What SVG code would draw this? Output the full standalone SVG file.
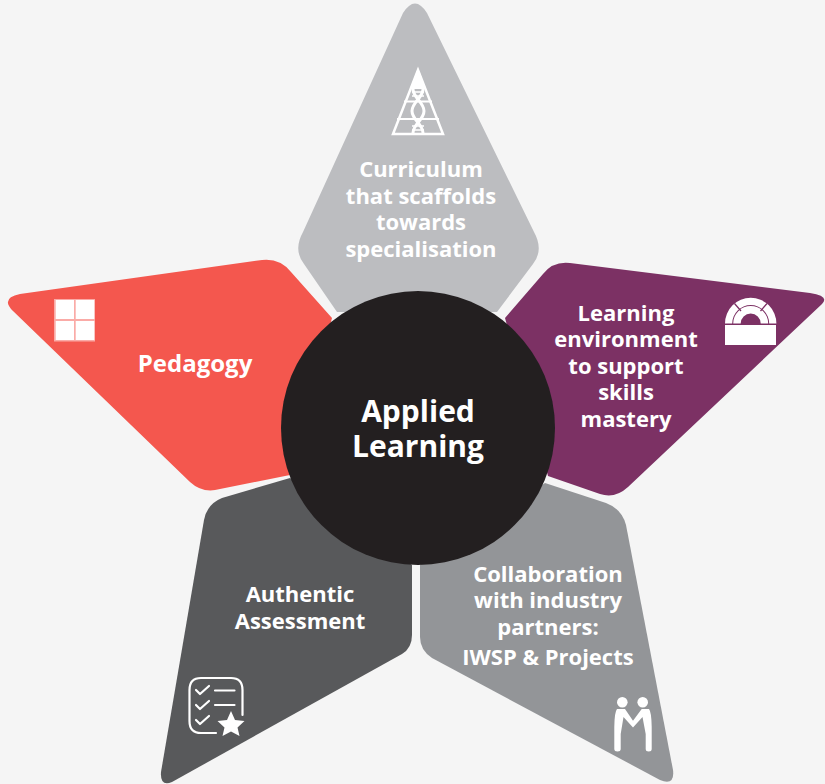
<svg xmlns="http://www.w3.org/2000/svg" width="825" height="784" viewBox="0 0 825 784">
<style>
.t{font-family:"Open Sans","Liberation Sans",sans-serif;font-weight:700;font-size:22px;fill:#fff;text-anchor:middle}
.c{font-family:"Open Sans","Liberation Sans",sans-serif;font-weight:700;font-size:30px;fill:#fff;text-anchor:middle}
.w{fill:#fff}
.l{fill:none;stroke:#fff;stroke-width:2.200;stroke-linecap:round;stroke-linejoin:round}
</style>
<rect width="825" height="784" fill="#f5f5f5"/>
<g id="node-curriculum">
<path d="M403 13Q415 -6 427 13L534 232Q544 250 533 264L497 312L337 312L304 264Q293 250 303 232Z" fill="#bcbdc0"/>
<path d="M418 70L443 134H393Z" fill="none" stroke="#fff" stroke-width="2.500"/>
<path class="w" d="M418 68L426 89H410Z"/>
<path d="M404 101.500H432M397 119H439" stroke="#fff" stroke-width="2" fill="none"/>
<path d="M413 89C413 98 424 102 424 111C424 120 413 124 413 133M423 89C423 98 412 102 412 111C412 120 423 124 423 133" stroke="#fff" stroke-width="3" fill="none"/>
<path d="M412 92H424M412 96H424M412 126H424M412 130H424" stroke="#fff" stroke-width="1.500" fill="none"/>
<text class="t" x="421" y="177">Curriculum</text>
<text class="t" x="421" y="204">that scaffolds</text>
<text class="t" x="421" y="230">towards</text>
<text class="t" x="421" y="257">specialisation</text>
</g>
<g id="node-environment">
<path d="M570 263L810 293Q830 296 822 304L628 487Q615 499 600 494L548 476L505 318L543 274Q553 261 570 263Z" fill="#7c3164"/>
<path class="w" d="M725 323.500A25.700 25.700 0 0 1 776.400 323.500H769.200A18.500 18.500 0 0 0 732.200 323.500Z"/>
<path class="w" d="M733.200 323.500A17.500 17.500 0 0 1 768.200 323.500H760.700A10 10 0 0 0 740.700 323.500Z"/>
<path d="M734.500 303.500L741 311M767 303.500L760.500 311" stroke="#7c3164" stroke-width="1.300"/>
<rect class="w" x="725" y="325" width="51" height="20"/>
<text class="t" x="626" y="321">Learning</text>
<text class="t" x="626" y="347">environment</text>
<text class="t" x="626" y="374">to support</text>
<text class="t" x="626" y="400">skills</text>
<text class="t" x="626" y="427">mastery</text>
</g>
<g id="node-pedagogy">
<path d="M20 294L262 260Q280 258 291 272L332 318L290 475L220 489Q203 494 190 482L13 311Q0 298 20 294Z" fill="#f4574e"/>
<rect x="54" y="299" width="41" height="42.500" fill="#fff" opacity=".5"/>
<path class="w" d="M55.700 300H74V319H55.700ZM75.700 300H94.300V319H75.700ZM55.700 321H74V340H55.700ZM75.700 321H94.300V340H75.700Z"/>
<text class="t" x="195" y="372" style="font-size:24px">Pedagogy</text>
</g>
<g id="node-assessment">
<path d="M222 498L290 478L412 565L412 635Q412 648 402 654L172 782Q160 787 161 772L204 520Q207 504 222 498Z" fill="#58595b"/>
<path class="l" d="M242.500 715V690Q242.500 678 231 678H201Q189.500 678 189.500 690V721Q189.500 733 201 733H216"/>
<path class="l" d="M196 690L200 694L209 686M196 705L200 709L209 701M196 720L200 724L209 716M215 690.500H234.500M215 705H234.500"/>
<path class="w" d="M231 711L235 720L244.500 721L237.500 727.500L239.500 736L231 731.500L222.500 736L224.500 727.500L217.500 721L227 720Z"/>
<text class="t" x="300" y="602">Authentic</text>
<text class="t" x="300" y="629">Assessment</text>
</g>
<g id="node-collaboration">
<path d="M545 483L606 503Q622 509 626 525L673 770Q675 786 660 780L432 658Q420 650 420 637L420 565Z" fill="#939598"/>
<circle class="w" cx="622.300" cy="702.300" r="5.300"/>
<circle class="w" cx="642.700" cy="702.300" r="5.300"/>
<path class="w" d="M617 709H625L633 720.700L641.700 709H649Q651.500 712 651.700 727V749Q651.700 751.500 648.700 751.500Q645.700 751.500 645.700 749V734L642.500 717L633 727.500L623.500 717L620.700 734V749Q620.700 751.500 617.500 751.500Q614.300 751.500 614.300 749V727Q614.500 712 617 709Z"/>
<text class="t" x="548" y="582">Collaboration</text>
<text class="t" x="548" y="608">with industry</text>
<text class="t" x="548" y="635">partners:</text>
<text class="t" x="548" y="665">IWSP &amp; Projects</text>
</g>
<g id="node-center">
<circle cx="418" cy="428" r="137" fill="#231f20"/>
<text class="c" x="418" y="422">Applied</text>
<text class="c" x="418" y="457">Learning</text>
</g>
<g id="connectors"></g>
</svg>
